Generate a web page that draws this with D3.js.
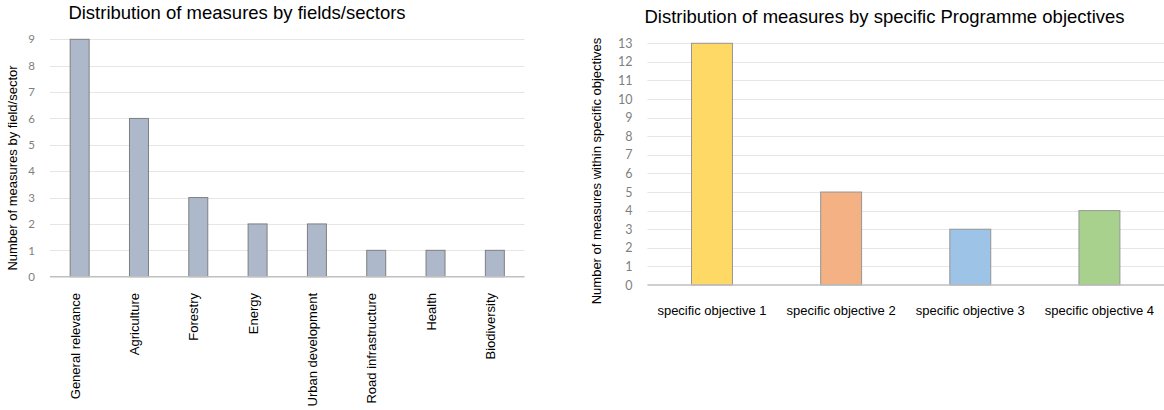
<!DOCTYPE html>
<html>
<head>
<meta charset="utf-8">
<script src="https://cdn.jsdelivr.net/npm/d3@7"></script>
<style>
  html, body { margin: 0; padding: 0; background: #ffffff; }
  svg { display: block; }
  .title, .axis-title, .cat { font-family: "Liberation Sans", Arial, sans-serif; fill: #000; }
</style>
</head>
<body>
<svg id="chart" width="1164" height="410"></svg>
<script>
// Measures by field / sector
const sectorNames = ["General relevance", "Agriculture", "Forestry", "Energy",
  "Urban development", "Road infrastructure", "Health", "Biodiversity"];
const sectorCounts = [9, 6, 3, 2, 2, 1, 1, 1];
const sectorTicks = [0, 1, 2, 3, 4, 5, 6, 7, 8, 9];

// Measures by specific programme objective
const objectiveNames = ["specific objective 1", "specific objective 2",
  "specific objective 3", "specific objective 4"];
const objectiveCounts = [13, 5, 3, 4];
const objectiveColors = ["#ffd966", "#f4b183", "#9dc3e6", "#a9d18e"];
const objectiveTicks = [0, 1, 2, 3, 4, 5, 6, 7, 8, 9, 10, 11, 12, 13];

const svg = d3.select("#chart");

function drawPanel(cfg) {
  const g = svg.append("g");
  const x = d3.scaleBand().domain(cfg.names).range([cfg.x0, cfg.x1])
    .paddingInner(cfg.pad).paddingOuter(cfg.pad / 2);
  const y = d3.scaleLinear().domain([0, cfg.max]).range([cfg.yBottom, cfg.yTop]);

  // horizontal gridlines
  g.append("g").selectAll("line").data(cfg.ticks.filter(t => t > 0)).join("line")
    .attr("x1", cfg.x0).attr("x2", cfg.gridEnd)
    .attr("y1", d => Math.round(y(d)) + 0.5).attr("y2", d => Math.round(y(d)) + 0.5)
    .attr("stroke", "#e6e6e6").attr("stroke-width", 1);

  // value axis labels
  const yAxis = d3.axisLeft(y).tickValues(cfg.ticks).tickSize(0).tickPadding(0);
  const ya = g.append("g").attr("transform", `translate(${cfg.x0 - cfg.tickGap},0)`).call(yAxis);
  ya.select(".domain").remove();
  ya.selectAll("text").attr("font-size", cfg.tickSize)
    .attr("fill", "#7f7f7f").style("font-family", "Lato, 'Open Sans', sans-serif");

  // bars
  g.append("g").selectAll("rect").data(cfg.values).join("rect")
    .attr("x", (d, i) => x(cfg.names[i]))
    .attr("width", x.bandwidth())
    .attr("y", d => y(d))
    .attr("height", d => y(0) - y(d))
    .attr("fill", (d, i) => cfg.colors[i % cfg.colors.length])
    .attr("stroke", cfg.stroke).attr("stroke-width", 1);

  // category axis line
  g.append("line").attr("x1", cfg.x0).attr("x2", cfg.gridEnd)
    .attr("y1", y(0)).attr("y2", y(0))
    .attr("stroke", "#bfbfbf").attr("stroke-width", 1.5);

  // chart title
  g.append("text").attr("class", "title")
    .attr("x", cfg.titleX).attr("y", cfg.titleY)
    .attr("text-anchor", "middle").attr("font-size", 18.5)
    .text(cfg.title);

  // value axis title
  g.append("text").attr("class", "axis-title")
    .attr("transform", `translate(${cfg.yTitleX},${cfg.yTitleY}) rotate(-90)`)
    .attr("text-anchor", "middle").attr("font-size", 13)
    .text(cfg.yTitle);

  return x;
}

// left panel: fields / sectors
const xs = drawPanel({
  names: sectorNames, values: sectorCounts, ticks: sectorTicks, max: 9, pad: 0.68,
  x0: 50, x1: 524.5, gridEnd: 524.5, yTop: 39.3, yBottom: 276.7, tickGap: 15, tickSize: 11.5,
  colors: ["#adb9ca"], stroke: "#7f7f7f",
  title: "Distribution of measures by fields/sectors", titleX: 237, titleY: 19,
  yTitle: "Number of measures by field/sector", yTitleX: 16.8, yTitleY: 168
});

svg.append("g").selectAll("text").data(sectorNames).join("text")
  .attr("class", "cat")
  .attr("transform", d => `translate(${xs(d) + xs.bandwidth() / 2},293) rotate(-90)`)
  .attr("text-anchor", "end").attr("font-size", 13)
  .text(d => d);

// right panel: specific objectives
const xo = drawPanel({
  names: objectiveNames, values: objectiveCounts, ticks: objectiveTicks, max: 13, pad: 0.683,
  x0: 647.4, x1: 1164, gridEnd: 1164, yTop: 43.3, yBottom: 285, tickGap: 15, tickSize: 12.5,
  colors: objectiveColors, stroke: "#959595",
  title: "Distribution of measures by specific Programme objectives", titleX: 884.5, titleY: 22.7,
  yTitle: "Number of measures within specific objectives", yTitleX: 601, yTitleY: 171
});

svg.append("g").selectAll("text").data(objectiveNames).join("text")
  .attr("class", "cat")
  .attr("x", d => xo(d) + xo.bandwidth() / 2).attr("y", 315)
  .attr("text-anchor", "middle").attr("font-size", 13)
  .text(d => d);
</script>
</body>
</html>
